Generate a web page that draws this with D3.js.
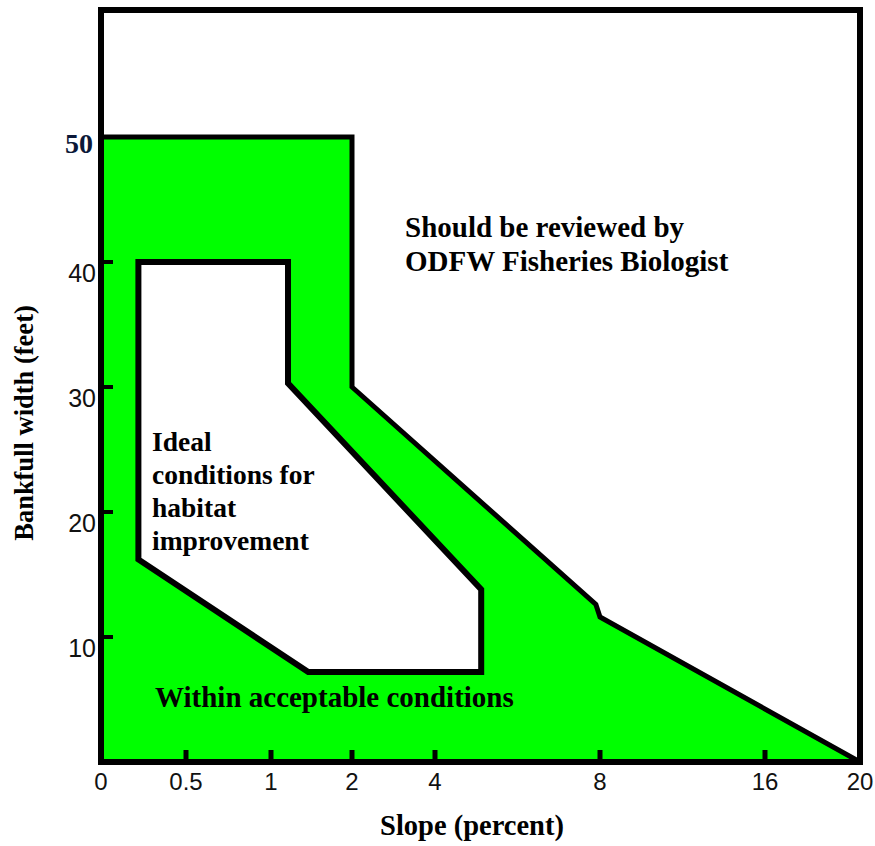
<!DOCTYPE html>
<html>
<head>
<meta charset="utf-8">
<script src="https://cdn.jsdelivr.net/npm/d3@7"></script>
<style>
  body { margin: 0; background: #fff; }
  .serif { font-family: "Liberation Serif", "Times New Roman", serif; font-weight: bold; fill: #000; }
  .tick-lbl { font-family: "Liberation Sans", Arial, sans-serif; fill: #111; }
</style>
</head>
<body>
<script>
// slope ticks (piecewise axis) and bankfull width ticks
var xTicks = [0, 0.5, 1, 2, 4, 8, 16, 20];
var xTickLabels = ["0", "0.5", "1", "2", "4", "8", "16", "20"];
var yTicks = [10, 20, 30, 40, 50];
var yTickLabels = ["10", "20", "30", "40", "50"];

// acceptable (green) zone outline, [slope, width]
var acceptable = [[0, 50], [2, 50], [2, 30], [7.9, 12.6], [8, 11.6], [20, 0]];
// ideal (white) zone
var ideal = [[0.22, 40], [1.21, 40], [1.21, 30.3], [5.12, 13.8], [5.12, 7.2], [1.46, 7.2], [0.22, 16.2]];

var W = 875, H = 846;

var svg = d3.select("body").append("svg")
  .attr("width", W)
  .attr("height", H);

// the slope axis is stretched piece by piece, like the original
var x = d3.scaleLinear()
  .domain(xTicks)
  .range([101, 186, 271, 352, 435, 600, 765, 860]);

var y = d3.scaleLinear()
  .domain([0, 50])
  .range([762, 137]);

var frameTop = 10;

var line = d3.line()
  .x(function(d) { return x(d[0]); })
  .y(function(d) { return y(d[1]); });

// green zone
svg.append("path")
  .attr("d", line(acceptable.concat([[0, 0]])) + "Z")
  .style("fill", "#00ff00");

svg.append("path")
  .attr("d", line(acceptable))
  .style("fill", "none")
  .style("stroke", "#000")
  .style("stroke-width", 5)
  .style("stroke-linejoin", "miter");

// ideal zone
svg.append("path")
  .attr("d", line(ideal) + "Z")
  .style("fill", "#fff")
  .style("stroke", "#000")
  .style("stroke-width", 6)
  .style("stroke-linejoin", "miter");

// frame
svg.append("rect")
  .attr("x", x(0))
  .attr("y", frameTop)
  .attr("width", x(20) - x(0))
  .attr("height", y(0) - frameTop)
  .style("fill", "none")
  .style("stroke", "#000")
  .style("stroke-width", 6);

// bottom ticks point up into the plot
svg.selectAll(".xtick")
  .data(xTicks.slice(1, -1))
  .enter()
  .append("line")
  .attr("x1", function(d) { return x(d); })
  .attr("x2", function(d) { return x(d); })
  .attr("y1", y(0))
  .attr("y2", y(0) - 12)
  .style("stroke", "#000")
  .style("stroke-width", 5);

svg.selectAll(".xlbl")
  .data(xTicks)
  .enter()
  .append("text")
  .attr("class", "tick-lbl")
  .attr("x", function(d) { return x(d); })
  .attr("y", 790)
  .attr("text-anchor", "middle")
  .style("font-size", "24px")
  .text(function(d, i) { return xTickLabels[i]; });

// left ticks point right into the plot
svg.selectAll(".ytick")
  .data(yTicks.slice(0, -1))
  .enter()
  .append("line")
  .attr("x1", x(0))
  .attr("x2", x(0) + 12)
  .attr("y1", function(d) { return y(d); })
  .attr("y2", function(d) { return y(d); })
  .style("stroke", "#000")
  .style("stroke-width", 4);

svg.selectAll(".ylbl")
  .data(yTicks)
  .enter()
  .append("text")
  .attr("class", function(d) { return d === 50 ? "serif" : "tick-lbl"; })
  .attr("x", function(d) { return d === 50 ? 93 : 96; })
  .attr("y", function(d) { return y(d) + (d === 50 ? 16 : 20); })
  .attr("text-anchor", "end")
  .style("font-size", function(d) { return d === 50 ? "28px" : "25px"; })
  .style("fill", function(d) { return d === 50 ? "#0b1838" : "#111"; })
  .text(function(d, i) { return yTickLabels[i]; });

// annotations
svg.append("text").attr("class", "serif")
  .attr("x", 405).attr("y", 237)
  .style("font-size", "29px")
  .text("Should be reviewed by");
svg.append("text").attr("class", "serif")
  .attr("x", 405).attr("y", 271)
  .style("font-size", "29px")
  .text("ODFW Fisheries Biologist");

var idealLines = ["Ideal", "conditions for", "habitat", "improvement"];
svg.selectAll(".ideal-lbl")
  .data(idealLines)
  .enter()
  .append("text")
  .attr("class", "serif")
  .attr("x", 152)
  .attr("y", function(d, i) { return 451 + i * 33; })
  .style("font-size", "27.5px")
  .text(function(d) { return d; });

svg.append("text").attr("class", "serif")
  .attr("x", 155).attr("y", 707)
  .style("font-size", "29px")
  .text("Within acceptable conditions");

// axis titles
svg.append("text").attr("class", "serif")
  .attr("x", 472).attr("y", 835)
  .attr("text-anchor", "middle")
  .style("font-size", "28.5px")
  .text("Slope (percent)");

svg.append("text").attr("class", "serif")
  .attr("transform", "translate(33,423) rotate(-90)")
  .attr("text-anchor", "middle")
  .style("font-size", "26.5px")
  .text("Bankfull width (feet)");
</script>
</body>
</html>
